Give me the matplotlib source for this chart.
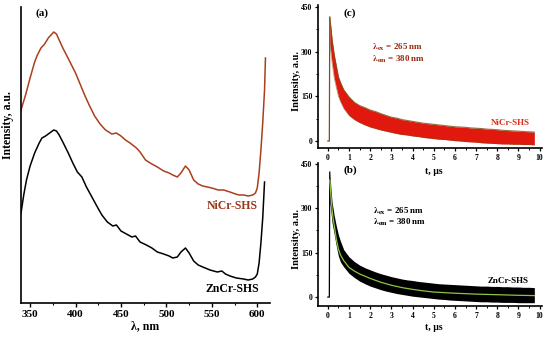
import numpy as np
import matplotlib
matplotlib.use("Agg")
import matplotlib.pyplot as plt
from matplotlib.ticker import MultipleLocator

plt.rcParams['font.family'] = ['Liberation Serif', 'DejaVu Serif']
plt.rcParams['font.weight'] = 'bold'
plt.rcParams['mathtext.fontset'] = 'stix'

# (a) emission spectra
wl_ni = [340, 345, 350, 355, 358, 362, 366, 370, 373, 376, 379, 382, 386, 390, 395,
         400, 405, 410, 415, 421, 427, 433, 440, 445, 450, 455, 460, 467, 471, 477,
         484, 490, 497, 503, 507, 512, 516, 521, 525, 530, 535, 540, 545, 550, 557,
         563, 570, 576, 580, 585, 590, 595, 598, 600, 602, 604, 606, 608, 609]
int_ni = [193, 208, 225, 241, 248, 255, 259, 265, 268, 271, 269, 263, 255, 248, 239,
          230, 219, 208, 198, 187, 179, 173, 169, 170, 167, 163, 160, 155, 151, 143,
          139, 136, 132, 130, 128, 126, 130, 137, 133, 123, 119, 117, 116, 115, 113,
          113, 111, 109, 108, 108, 107, 108, 110, 115, 130, 153, 180, 213, 245]
wl_zn = [340, 343, 346, 350, 355, 360, 363, 367, 370, 373, 376, 379, 382, 386, 392,
         397, 402, 407, 412, 418, 424, 429, 435, 441, 445, 450, 456, 462, 466, 471,
         478, 484, 490, 497, 503, 507, 512, 516, 521, 525, 530, 535, 540, 548, 556,
         561, 565, 570, 577, 585, 590, 595, 598, 600, 602, 604, 606, 607, 608]
int_zn = [90, 108, 123, 137, 150, 160, 165, 167, 169, 171, 173, 172, 168, 161, 150,
          140, 131, 126, 116, 106, 96, 88, 81, 77, 78, 72, 69, 66, 67, 61,
          58, 55, 51, 49, 47, 45, 46, 51, 55, 50, 42, 38, 36, 33, 31,
          32, 29, 27, 25, 24, 23, 24, 26, 29, 40, 60, 85, 103, 121]

# (c) NiCr-SHS decay, noisy band envelopes
t_c = [0.09, 0.15, 0.2, 0.3, 0.4, 0.5, 0.6, 0.75, 1.0, 1.25, 1.5, 1.75, 2.0, 2.25,
       2.5, 2.75, 3.0, 3.25, 3.5, 3.75, 4.0, 4.25, 4.5, 4.75, 5.0, 5.25, 5.5, 5.75,
       6.0, 6.25, 6.5, 6.75, 7.0, 7.25, 7.5, 7.75, 8.0, 8.25, 8.5, 8.75, 9.0, 9.25,
       9.5, 9.75]
up_c = [416, 378, 340, 290, 252, 215, 196, 172, 148, 130, 119, 112, 104, 99,
        92, 86, 80, 77, 72, 69, 66, 63, 60, 58, 56, 54, 52, 50, 48, 47,
        46, 44, 43, 42, 40, 39, 38, 36, 35, 34, 33, 32, 31, 30]
lo_c = [330, 294, 262, 212, 180, 150, 132, 110, 86, 72, 62, 54, 47, 42,
        37, 33, 29, 25, 22, 20, 17, 15, 12, 10, 8, 6, 5, 3, 1, 0,
        -2, -3, -4, -6, -7, -8, -9, -10, -10, -11, -11, -12, -12, -13]

# (b) ZnCr-SHS decay, band envelopes and fit
t_b = [0.09, 0.15, 0.2, 0.25, 0.3, 0.4, 0.5, 0.6, 0.75, 1.0, 1.25, 1.5, 1.75, 2.0,
       2.25, 2.5, 2.75, 3.0, 3.25, 3.5, 3.75, 4.0, 4.25, 4.5, 4.75, 5.0, 5.25, 5.5,
       5.75, 6.0, 6.25, 6.5, 6.75, 7.0, 7.25, 7.5, 7.75, 8.0, 8.25, 8.5, 8.75, 9.0,
       9.25, 9.5, 9.75]
up_b = [422, 362, 320, 298, 275, 240, 210, 188, 160, 136, 120, 108, 99, 92,
        85, 79, 74, 69, 65, 61, 58, 56, 53, 51, 49, 47, 45, 44, 43, 42,
        41, 40, 39, 38, 37, 37, 36, 36, 35, 35, 34, 34, 33, 33, 32]
lo_b = [320, 285, 250, 232, 212, 172, 138, 118, 102, 80, 66, 54, 45, 37,
        31, 25, 20, 16, 12, 9, 6, 3, 1, -1, -3, -5, -7, -8, -10, -11,
        -12, -13, -14, -15, -16, -16, -17, -17, -18, -18, -18, -19, -19, -19, -19]
t_fit = [0.09, 0.15, 0.2, 0.25, 0.3, 0.4, 0.5, 0.6, 0.75, 1.0, 1.25, 1.5, 2.0, 2.5,
         3.0, 3.5, 4.0, 4.5, 5.0, 5.5, 6.0, 7.0, 8.0, 9.0, 9.75]
fit_b = [395, 340, 295, 265, 243, 195, 162, 142, 123, 100, 88, 78, 63, 50,
         40, 32, 26, 21, 17, 15, 13, 10, 8, 6, 5]

fig = plt.figure(figsize=(5.5, 3.43), dpi=100)

# ---- panel (a)
ax = fig.add_axes([0.0382, 0.1166, 0.4527, 0.863])
ax.plot(wl_ni, int_ni, color='#a8401e', lw=1.1)
ax.plot(wl_zn, int_zn, color='black', lw=1.1)
ax.set_xlim(340, 614)
ax.set_ylim(0, 296)
ax.spines['top'].set_visible(False)
ax.spines['right'].set_visible(False)
for s in ax.spines.values():
    s.set_linewidth(1.2)
ax.set_yticks([])
ax.xaxis.set_major_locator(MultipleLocator(50))
ax.xaxis.set_minor_locator(MultipleLocator(25))
ax.tick_params(axis='x', which='major', length=3, width=1, labelsize=8, pad=2)
ax.tick_params(axis='x', which='minor', length=1.5, width=0.8)
ax.set_xlabel('λ, nm', fontsize=8.5, fontweight='bold', labelpad=1)
ax.set_ylabel('Intensity, a.u.', fontsize=8.5, fontweight='bold')
ax.yaxis.set_label_coords(-0.03, 0.6)
ax.text(363, 290, '(a)', fontsize=8, fontweight='bold', ha='center', va='center')
ax.text(572, 97, 'NiCr-SHS', fontsize=8.5, fontweight='bold', color='#9a3418',
        ha='center', va='center')
ax.text(572, 14, 'ZnCr-SHS', fontsize=8.5, fontweight='bold', color='black',
        ha='center', va='center')


def decay_axes(rect, ylim):
    a = fig.add_axes(rect)
    a.patch.set_visible(False)
    a.set_xlim(-0.47, 10.1)
    a.set_ylim(*ylim)
    a.spines['top'].set_visible(False)
    a.spines['right'].set_visible(False)
    for s in a.spines.values():
        s.set_linewidth(1.2)
    a.xaxis.set_major_locator(MultipleLocator(1))
    a.xaxis.set_minor_locator(MultipleLocator(0.5))
    a.yaxis.set_major_locator(MultipleLocator(150))
    a.yaxis.set_minor_locator(MultipleLocator(75))
    a.tick_params(which='major', length=2.5, width=0.9, labelsize=5.5, pad=1.5)
    a.tick_params(which='minor', length=1.3, width=0.7)
    a.set_xlabel('t, μs', fontsize=7, fontweight='bold')
    a.set_ylabel('Intensity, a.u.', fontsize=7.5, fontweight='bold')
    a.yaxis.set_label_coords(-0.075, 0.47)
    return a


# ---- panel (c)
axc = decay_axes([0.578, 0.5685, 0.407, 0.4169], (-23.5, 457))
axc.plot([0.0, 0.07, t_c[0]], [0, 0, up_c[0]], color='#8a4a14', lw=0.9)
axc.fill_between(t_c, lo_c, up_c, color='#e0180e', lw=0)
axc.plot(t_c, up_c, color='#7a5216', lw=0.8, alpha=0.8)
axc.plot(t_c, lo_c, color='#7a5216', lw=0.5, alpha=0.6)
axc.xaxis.set_label_coords(0.52, -0.133)
axc.text(1.04, 430, '(c)', fontsize=8, fontweight='bold', ha='center', va='center')
axc.text(2.08, 316, r'$\mathbf{\lambda}_{\mathbf{ex}}$ = 265 nm', fontsize=6.5,
         fontweight='bold', color='#9a2a10', va='center')
axc.text(2.08, 274, r'$\mathbf{\lambda}_{\mathbf{em}}$ = 380 nm', fontsize=6.5,
         fontweight='bold', color='#9a2a10', va='center')
axc.text(8.6, 60, 'NiCr-SHS', fontsize=6.5, fontweight='bold', color='#d8301c',
         ha='center', va='center')

# ---- panel (b)
axb = decay_axes([0.578, 0.108, 0.407, 0.417], (-30, 453))
axb.plot([0.0, 0.07, t_b[0]], [0, 0, up_b[0]], color='black', lw=0.9)
axb.fill_between(t_b, lo_b, up_b, color='black', lw=0)
axb.plot(t_fit, fit_b, color='#8cc63f', lw=0.9)
axb.xaxis.set_label_coords(0.52, -0.119)
axb.text(1.04, 430, '(b)', fontsize=8, fontweight='bold', ha='center', va='center')
axb.text(2.12, 288, r'$\mathbf{\lambda}_{\mathbf{ex}}$ = 265 nm', fontsize=6.5,
         fontweight='bold', color='black', va='center')
axb.text(2.12, 252, r'$\mathbf{\lambda}_{\mathbf{em}}$ = 380 nm', fontsize=6.5,
         fontweight='bold', color='black', va='center')
axb.text(8.5, 54, 'ZnCr-SHS', fontsize=6.5, fontweight='bold', color='black',
         ha='center', va='center')

fig.savefig('out.png', dpi=100)
